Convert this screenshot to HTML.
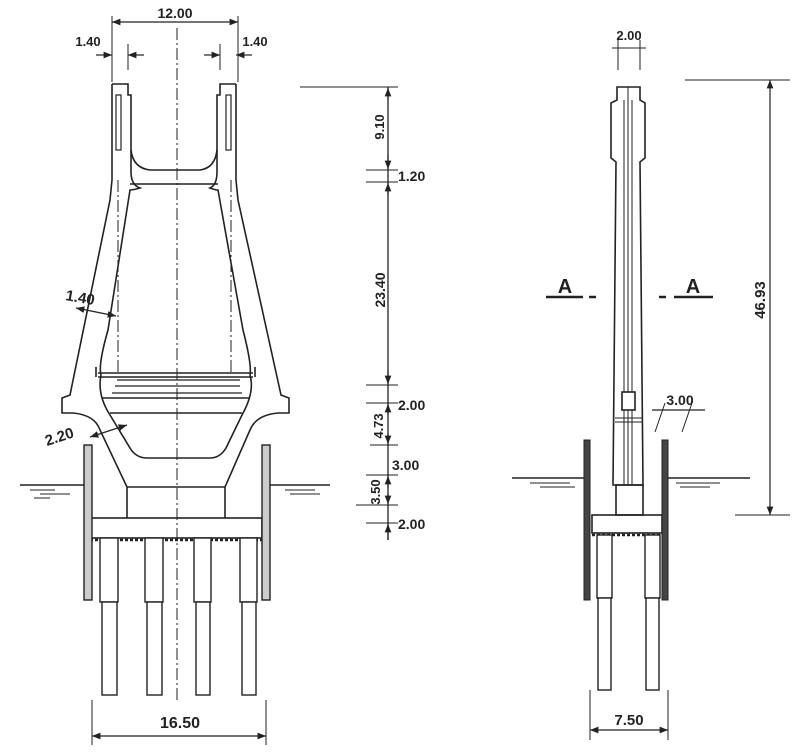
<!DOCTYPE html>
<html><head><meta charset="utf-8"><style>
html,body{margin:0;padding:0;background:#fff}
svg{display:block}
text{font-family:"Liberation Sans",sans-serif;font-weight:bold;fill:#222}
</style></head><body>
<svg width="800" height="755" viewBox="0 0 800 755" xmlns="http://www.w3.org/2000/svg">
<defs>
<marker id="ar" viewBox="0 0 10 10" refX="10" refY="5" markerWidth="7" markerHeight="7" orient="auto-start-reverse"><path d="M0,1 L10,5 L0,9 z" fill="#222"/></marker>
</defs>
<g stroke="#222" stroke-width="1.6" fill="none">
<!-- LEFT VIEW -->
<line x1="177" y1="28" x2="177" y2="700" stroke-dasharray="12,3,2,3" stroke-width="1"/>
<line x1="118" y1="180" x2="118" y2="375" stroke-dasharray="12,3,2,3" stroke-width="1"/>
<line x1="231" y1="180" x2="231" y2="375" stroke-dasharray="12,3,2,3" stroke-width="1"/>
<!-- left leg -->
<path d="M112,84 L128,84 L128,95 L131,95 L131,172 Q131,185 140,188 Q133,190 130,190 L108,330 Q98,365 101,375"/>
<path d="M112,84 L112,180 Q111,190 110,200 L70,395 L62,398 L62,413 L73,413 Q95,415 100,430 L127,487 L127,518"/>
<!-- right leg -->
<path d="M236,84 L220,84 L220,95 L217,95 L217,172 Q217,185 210,188 Q215,190 218,190 L243,330 Q252,365 250,375"/>
<path d="M236,84 L236,180 Q237,190 238,200 L281,395 L289,398 L289,413 L278,413 Q256,415 250,430 L225,487 L225,518"/>
<!-- top U -->
<path d="M131,150 Q133,168 150,170 L200,170 Q215,168 217,150"/>
<line x1="130" y1="184" x2="218" y2="184"/>
<!-- leg slots -->
<rect x="116" y="95" width="5" height="55" stroke-width="1.2"/>
<rect x="226" y="95" width="5" height="55" stroke-width="1.2"/>
<!-- inner lower chamber -->
<path d="M101,375 Q97,395 110,415 L130,448 Q136,458 147,458 L210,458 Q220,458 226,448 L242,415 Q255,392 250,375"/>
<!-- platform -->
<line x1="98" y1="373" x2="253" y2="373"/>
<line x1="98" y1="377" x2="253" y2="377"/>
<path d="M117,380 L240,380 M115,386 L240,386 M112,393 L242,393" stroke-width="1.2"/>
<line x1="96" y1="367" x2="96" y2="377"/>
<line x1="255" y1="367" x2="255" y2="377"/>
<line x1="102" y1="398" x2="250" y2="398"/>
<line x1="110" y1="413" x2="242" y2="413"/>
<line x1="127" y1="487" x2="225" y2="487"/>
<!-- pile cap -->
<rect x="90" y="518" width="172" height="20"/>
<line x1="90" y1="540" x2="262" y2="540" stroke-dasharray="3,2" stroke-width="2.5"/>
<!-- sheet piles -->
<rect x="84" y="445" width="8" height="155" stroke-width="1.4" fill="#ccc"/>
<rect x="262" y="445" width="8" height="155" stroke-width="1.4" fill="#ccc"/>
<!-- piles -->
<g stroke-width="1.4" fill="#fff">
<rect x="100" y="538" width="18" height="64"/><rect x="102" y="602" width="15" height="93"/>
<rect x="145" y="538" width="18" height="64"/><rect x="147" y="602" width="15" height="93"/>
<rect x="194" y="538" width="17" height="64"/><rect x="196" y="602" width="14" height="93"/>
<rect x="240" y="538" width="17" height="64"/><rect x="242" y="602" width="14" height="93"/>
</g>
<!-- water -->
<line x1="20" y1="485" x2="84" y2="485"/>
<path d="M30,490 L55,490 M40,494 L70,494 M34,498 L50,498" stroke-width="1"/>
<line x1="270" y1="485" x2="330" y2="485"/>
<path d="M285,490 L315,490 M290,494 L320,494" stroke-width="1"/>
<!-- dims left -->
<line x1="112" y1="16" x2="112" y2="82" stroke-width="1"/>
<line x1="238" y1="16" x2="238" y2="82" stroke-width="1"/>
<line x1="128" y1="44" x2="128" y2="70" stroke-width="1"/>
<line x1="220" y1="44" x2="220" y2="70" stroke-width="1"/>
<line x1="112" y1="22" x2="238" y2="22" stroke-width="1.2" marker-start="url(#ar)" marker-end="url(#ar)"/>
<line x1="96" y1="55" x2="112" y2="55" stroke-width="1.2" marker-end="url(#ar)"/>
<line x1="144" y1="55" x2="128" y2="55" stroke-width="1.2" marker-end="url(#ar)"/>
<line x1="204" y1="55" x2="220" y2="55" stroke-width="1.2" marker-end="url(#ar)"/>
<line x1="252" y1="55" x2="236" y2="55" stroke-width="1.2" marker-end="url(#ar)"/>
<line x1="76" y1="308" x2="116" y2="316" stroke-width="1.2" marker-start="url(#ar)" marker-end="url(#ar)"/>
<line x1="90" y1="437" x2="127" y2="425" stroke-width="1.2" marker-start="url(#ar)" marker-end="url(#ar)"/>
<line x1="92" y1="700" x2="92" y2="745" stroke-width="1"/>
<line x1="266" y1="700" x2="266" y2="745" stroke-width="1"/>
<line x1="92" y1="736" x2="266" y2="736" stroke-width="1.2" marker-start="url(#ar)" marker-end="url(#ar)"/>
<!-- middle dims -->
<line x1="300" y1="87" x2="398" y2="87" stroke-width="1"/>
<line x1="388" y1="87" x2="388" y2="540" stroke-width="1.3"/>
<g stroke-width="1">
<line x1="366" y1="170" x2="398" y2="170"/><line x1="366" y1="182" x2="398" y2="182"/>
<line x1="366" y1="385" x2="398" y2="385"/><line x1="366" y1="403" x2="398" y2="403"/>
<line x1="370" y1="445" x2="398" y2="445"/><line x1="366" y1="475" x2="398" y2="475"/>
<line x1="356" y1="505" x2="398" y2="505"/><line x1="366" y1="523" x2="398" y2="523"/>
</g>
<g stroke-width="1.2">
<line x1="388" y1="100" x2="388" y2="88" marker-end="url(#ar)"/>
<line x1="388" y1="155" x2="388" y2="169" marker-end="url(#ar)"/>
<line x1="388" y1="195" x2="388" y2="183" marker-end="url(#ar)"/>
<line x1="388" y1="370" x2="388" y2="384" marker-end="url(#ar)"/>
<line x1="388" y1="415" x2="388" y2="404" marker-end="url(#ar)"/>
<line x1="388" y1="433" x2="388" y2="444" marker-end="url(#ar)"/>
<line x1="388" y1="488" x2="388" y2="476" marker-end="url(#ar)"/>
<line x1="388" y1="494" x2="388" y2="504" marker-end="url(#ar)"/>
<line x1="388" y1="540" x2="388" y2="524" marker-end="url(#ar)"/>
</g>
<!-- RIGHT VIEW -->
<path d="M617,87 L640,87 L640,100 L645,103 L645,158 L640,162 L643,485 L613,485 L616,162 L611,158 L611,103 L617,100 Z"/>
<line x1="628" y1="87" x2="628" y2="485" stroke-width="1"/>
<line x1="624" y1="100" x2="624" y2="485" stroke-width="1"/>
<line x1="632" y1="100" x2="632" y2="485" stroke-width="1"/>
<rect x="622" y="392" width="13" height="18" fill="#fff"/>
<line x1="615" y1="418" x2="642" y2="418" stroke-width="1"/><line x1="615" y1="422" x2="642" y2="422" stroke-width="1"/>
<rect x="616" y="485" width="27" height="30"/>
<rect x="592" y="515" width="70" height="18"/>
<line x1="592" y1="535" x2="662" y2="535" stroke-dasharray="3,2" stroke-width="2.5"/>
<rect x="584" y="440" width="6" height="160" fill="#444" stroke-width="1"/>
<rect x="662" y="440" width="6" height="160" fill="#444" stroke-width="1"/>
<g stroke-width="1.4" fill="#fff">
<rect x="597" y="535" width="15" height="63"/><rect x="598" y="598" width="13" height="92"/>
<rect x="645" y="535" width="15" height="63"/><rect x="646" y="598" width="13" height="92"/>
</g>
<line x1="512" y1="478" x2="584" y2="478"/>
<path d="M530,483 L570,483 M540,487 L575,487" stroke-width="1"/>
<line x1="668" y1="478" x2="750" y2="478"/>
<path d="M676,483 L720,483 M680,487 L710,487" stroke-width="1"/>
<!-- right dims -->
<line x1="685" y1="80" x2="790" y2="80" stroke-width="1"/>
<line x1="735" y1="515" x2="790" y2="515" stroke-width="1"/>
<line x1="770" y1="80" x2="770" y2="515" stroke-width="1.2" marker-start="url(#ar)" marker-end="url(#ar)"/>
<line x1="618" y1="40" x2="618" y2="70" stroke-width="1"/><line x1="640" y1="40" x2="640" y2="70" stroke-width="1"/>
<line x1="612" y1="48" x2="646" y2="48" stroke-width="1"/>
<line x1="590" y1="690" x2="590" y2="740" stroke-width="1"/><line x1="668" y1="690" x2="668" y2="740" stroke-width="1"/>
<line x1="590" y1="730" x2="668" y2="730" stroke-width="1.2" marker-start="url(#ar)" marker-end="url(#ar)"/>
<line x1="652" y1="410" x2="705" y2="410" stroke-width="1.2"/>
<line x1="655" y1="432" x2="665" y2="403" stroke-width="1"/><line x1="682" y1="432" x2="692" y2="403" stroke-width="1"/>
<line x1="546" y1="297" x2="583" y2="297" stroke-width="2.5"/><line x1="589" y1="297" x2="596" y2="297" stroke-width="2.5"/>
<line x1="659" y1="297" x2="666" y2="297" stroke-width="2.5"/><line x1="674" y1="297" x2="713" y2="297" stroke-width="2.5"/>
</g>
<!-- TEXT -->
<text x="175" y="18" font-size="14" text-anchor="middle">12.00</text>
<text x="88" y="46" font-size="13" text-anchor="middle">1.40</text>
<text x="255" y="46" font-size="13" text-anchor="middle">1.40</text>
<text x="65" y="300" font-size="15" transform="rotate(10 65 300)">1.40</text>
<text x="47" y="446" font-size="15" transform="rotate(-18 47 446)">2.20</text>
<text x="180" y="728" font-size="16" text-anchor="middle">16.50</text>
<text x="398" y="181" font-size="14">1.20</text>
<text x="398" y="410" font-size="14">2.00</text>
<text x="392" y="470" font-size="14">3.00</text>
<text x="398" y="529" font-size="14">2.00</text>
<text x="384" y="127" font-size="13" text-anchor="middle" transform="rotate(-90 384 127)">9.10</text>
<text x="385" y="290" font-size="14" text-anchor="middle" transform="rotate(-90 385 290)">23.40</text>
<text x="383" y="426" font-size="13" text-anchor="middle" transform="rotate(-90 383 426)">4.73</text>
<text x="380" y="492" font-size="13" text-anchor="middle" transform="rotate(-90 380 492)">3.50</text>
<text x="629" y="40" font-size="13" text-anchor="middle">2.00</text>
<text x="680" y="405" font-size="14" text-anchor="middle">3.00</text>
<text x="629" y="725" font-size="15" text-anchor="middle">7.50</text>
<text x="765" y="300" font-size="15" text-anchor="middle" transform="rotate(-90 765 300)">46.93</text>
<text x="565" y="293" font-size="20" text-anchor="middle">A</text>
<text x="693" y="293" font-size="20" text-anchor="middle">A</text>
</svg>
</body></html>
